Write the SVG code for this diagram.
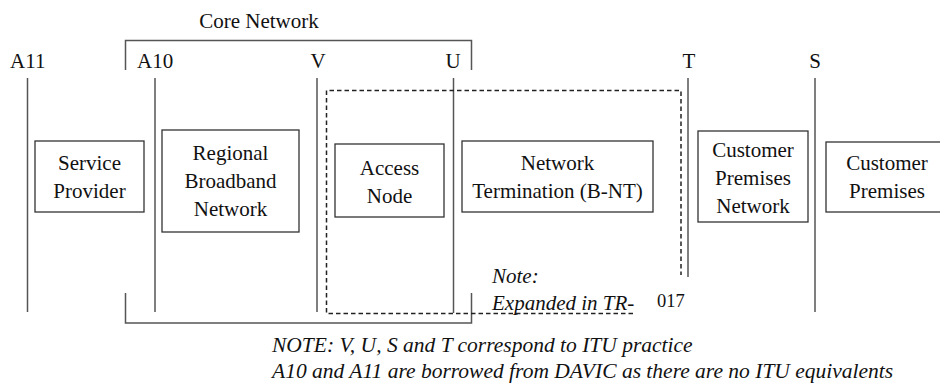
<svg xmlns="http://www.w3.org/2000/svg" width="940" height="385" viewBox="0 0 940 385">
<style>
.c{text-anchor:middle}
.box{fill:#fff;stroke:#333;stroke-width:1.3}
.ln{fill:none;stroke:#555;stroke-width:1.5}
.dash{fill:none;stroke:#222;stroke-width:1.5;stroke-dasharray:4.5,3}
</style>
<rect width="940" height="385" fill="#fff"/>
<g id="connectors">
<path class="ln" d="M125.5,70 V40.5 H471.5 V70"/>
<path class="ln" d="M125.5,293 V323 H471.5 V293"/>
<line class="ln" x1="27.5" y1="78" x2="27.5" y2="312"/>
<line class="ln" x1="155" y1="78" x2="155" y2="312"/>
<line class="ln" x1="317" y1="78" x2="317" y2="312"/>
<line class="ln" x1="453.5" y1="78" x2="453.5" y2="313"/>
<line class="ln" x1="688" y1="78" x2="688" y2="277"/>
<line class="ln" x1="815" y1="78" x2="815" y2="312"/>
<path class="dash" d="M633,313.5 H326.5 V90.5 H681 V275"/>
</g>
<g id="labels" font-size="21" fill="#111">
<text class="c" x="259" y="28" font-family="'Liberation Serif'">Core Network</text>
<text x="10" y="68" font-family="'Liberation Serif'">A11</text>
<text x="137" y="68" font-family="'Liberation Serif'">A10</text>
<text class="c" x="318" y="68" font-family="'Liberation Serif'">V</text>
<text class="c" x="453" y="68" font-family="'Liberation Serif'">U</text>
<text class="c" x="689" y="68" font-family="'Liberation Serif'">T</text>
<text class="c" x="815" y="68" font-family="'Liberation Serif'">S</text>
</g>
<g id="service-provider" font-size="21" fill="#111">
<rect class="box" x="35" y="141" width="109" height="71"/>
<text class="c" x="89.5" y="170" font-family="'Liberation Serif'">Service</text>
<text class="c" x="89.5" y="198" font-family="'Liberation Serif'">Provider</text>
</g>
<g id="regional-broadband-network" font-size="21" fill="#111">
<rect class="box" x="162" y="130" width="137" height="102"/>
<text class="c" x="230.5" y="160" font-family="'Liberation Serif'">Regional</text>
<text class="c" x="230.5" y="188" font-family="'Liberation Serif'">Broadband</text>
<text class="c" x="230.5" y="216" font-family="'Liberation Serif'">Network</text>
</g>
<g id="access-node" font-size="21" fill="#111">
<rect class="box" x="335" y="144" width="109" height="73"/>
<text class="c" x="389.5" y="175" font-family="'Liberation Serif'">Access</text>
<text class="c" x="389.5" y="203" font-family="'Liberation Serif'">Node</text>
</g>
<g id="network-termination" font-size="21" fill="#111">
<rect class="box" x="462" y="141" width="191" height="71"/>
<text class="c" x="557.5" y="170" font-family="'Liberation Serif'">Network</text>
<text class="c" x="557.5" y="198" font-family="'Liberation Serif'">Termination (B-NT)</text>
</g>
<g id="customer-premises-network" font-size="21" fill="#111">
<rect class="box" x="698" y="131" width="110" height="91"/>
<text class="c" x="753" y="157" font-family="'Liberation Serif'">Customer</text>
<text class="c" x="753" y="185" font-family="'Liberation Serif'">Premises</text>
<text class="c" x="753" y="213" font-family="'Liberation Serif'">Network</text>
</g>
<g id="customer-premises" font-size="21" fill="#111">
<rect class="box" x="826" y="142" width="130" height="70"/>
<text class="c" x="887" y="170" font-family="'Liberation Serif'">Customer</text>
<text class="c" x="887" y="198" font-family="'Liberation Serif'">Premises</text>
</g>
<g id="notes" font-size="21" fill="#111">
<text x="492" y="283" font-family="'Liberation Serif'" font-style="italic">Note:</text>
<text x="492" y="310" font-family="'Liberation Serif'" font-style="italic">Expanded in TR-</text>
<text x="657" y="307" font-family="'Liberation Serif'" font-size="18.5">017</text>
<text x="272" y="352" font-family="'Liberation Serif'" font-style="italic" font-size="21.5">NOTE: V, U, S and T correspond to ITU practice</text>
<text x="272" y="378" font-family="'Liberation Serif'" font-style="italic" font-size="21.5">A10 and A11 are borrowed from DAVIC as there are no ITU equivalents</text>
</g>
</svg>
